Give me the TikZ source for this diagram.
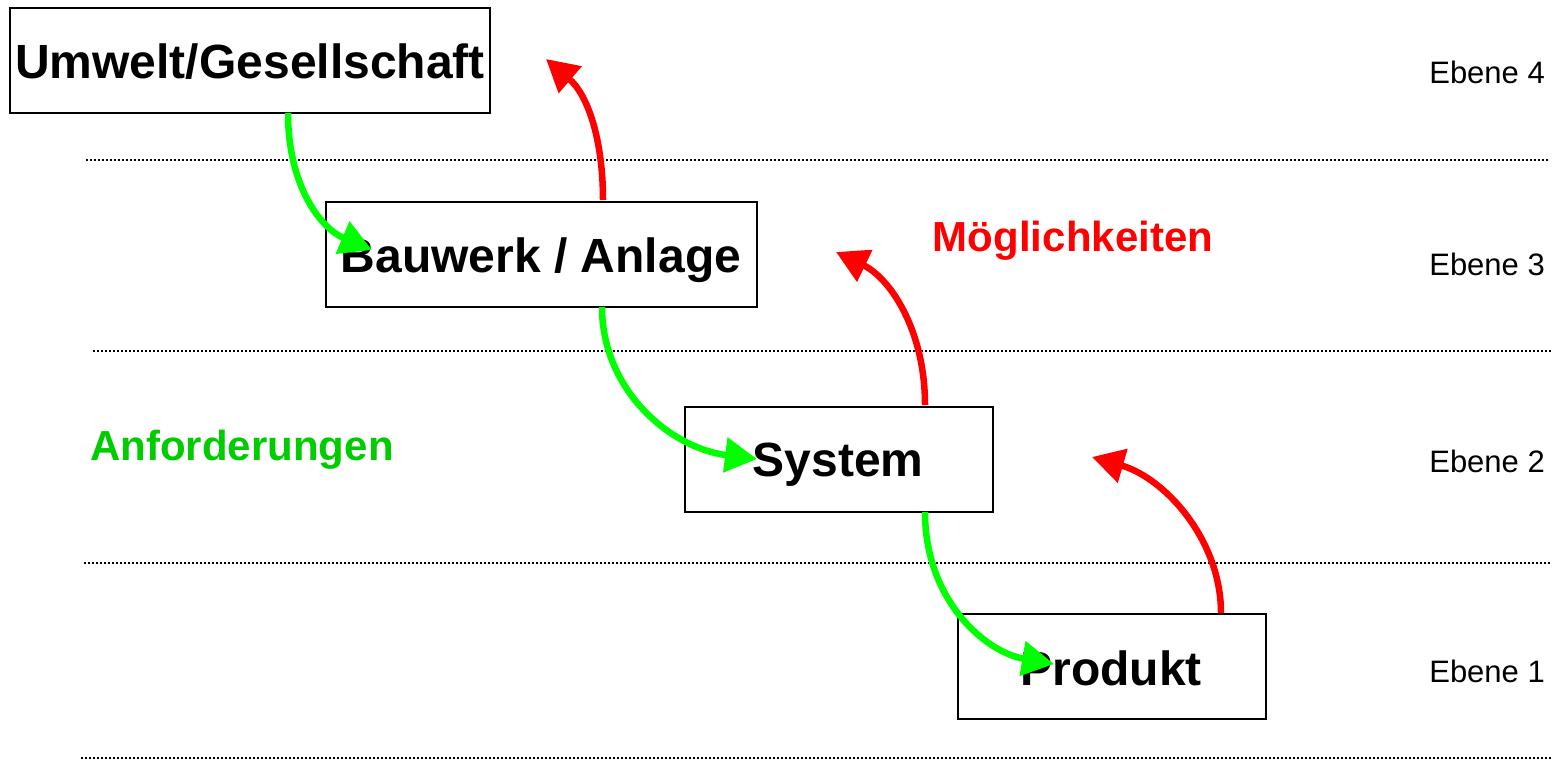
\documentclass[tikz,border=0pt]{standalone}
\usepackage{fontspec}
\setmainfont{Liberation Sans}
\usetikzlibrary{arrows.meta}
\definecolor{arrgreen}{RGB}{0,255,0}
\definecolor{txtgreen}{RGB}{0,204,0}
\definecolor{arrred}{RGB}{255,0,0}
\begin{document}
\begin{tikzpicture}[x=1pt,y=-1pt,
  levelbox/.style={draw=black,line width=2pt,minimum height=105pt,inner sep=0pt,anchor=north west},
  boxtext/.style={font=\fontsize{48}{50}\selectfont\bfseries,inner sep=0pt},
  levellabel/.style={font=\fontsize{31}{33}\selectfont,anchor=east,inner sep=0pt},
  sepline/.style={line width=1.5pt,dash pattern=on 1.5pt off 2.5pt},
  reqarrow/.style={draw=arrgreen,line width=6.5pt,-{Triangle[length=32pt,width=34pt]}},
  optarrow/.style={draw=arrred,line width=6.5pt,-{Triangle[length=32pt,width=34pt]}},
  bigtext/.style={font=\fontsize{42}{44}\selectfont\bfseries,inner sep=0pt}]
\useasboundingbox (0,0) rectangle (1552,760);
% boxes
\node[levelbox,minimum width=480pt] (u) at (9,7) {};
\node[boxtext] (ut) at (250,62) {Umwelt/Gesellschaft};
\node[levelbox,minimum width=431pt] (b) at (325,201) {};
\node[boxtext] (bt) at (541,260) {Bauwerk / Anlage};
\node[levelbox,minimum width=308pt] (s) at (684,406) {};
\node[boxtext] (st) at (838,465) {System};
\node[levelbox,minimum width=308pt] (p) at (957,613) {};
\node[boxtext] (pt) at (1111,668) {Produkt};
% separators
\coordinate (l1a) at (86,160); \coordinate (l1b) at (1550,160);
\coordinate (l2a) at (93,351); \coordinate (l2b) at (1552,351);
\coordinate (l3a) at (84,563); \coordinate (l3b) at (1552,563);
\coordinate (l4a) at (81,758); \coordinate (l4b) at (1552,758);
\draw[sepline] (l1a) -- (l1b);
\draw[sepline] (l2a) -- (l2b);
\draw[sepline] (l3a) -- (l3b);
\draw[sepline] (l4a) -- (l4b);
% level labels
\node[levellabel] (e4) at (1545,72) {Ebene 4};
\node[levellabel] (e3) at (1545,264) {Ebene 3};
\node[levellabel] (e2) at (1545,461) {Ebene 2};
\node[levellabel] (e1) at (1545,671) {Ebene 1};
% text labels
\node[bigtext,text=arrred] (m) at (1073,241) {Möglichkeiten};
\node[bigtext,text=txtgreen] (a) at (242,450) {Anforderungen};
% arrow endpoints
\coordinate (g1s) at (288,113); \coordinate (g1e) at (372,250);
\coordinate (r1s) at (603,200); \coordinate (r1e) at (546,59);
\coordinate (g2s) at (602,307); \coordinate (g2e) at (757,459);
\coordinate (r2s) at (925,405); \coordinate (r2e) at (836,252);
\coordinate (g3s) at (925,512); \coordinate (g3e) at (1054,664);
\coordinate (r3s) at (1221,613); \coordinate (r3e) at (1092,457);
% arrows
\draw[reqarrow] (g1s) .. controls (288,185) and (320,228) .. (g1e);
\draw[optarrow] (r1s) .. controls (603,140) and (588,95) .. (r1e);
\draw[reqarrow] (g2s) .. controls (602,390) and (670,448) .. (g2e);
\draw[optarrow] (r2s) .. controls (925,330) and (890,278) .. (r2e);
\draw[reqarrow] (g3s) .. controls (925,600) and (985,652) .. (g3e);
\draw[optarrow] (r3s) .. controls (1221,540) and (1165,478) .. (r3e);
\end{tikzpicture}
\end{document}
